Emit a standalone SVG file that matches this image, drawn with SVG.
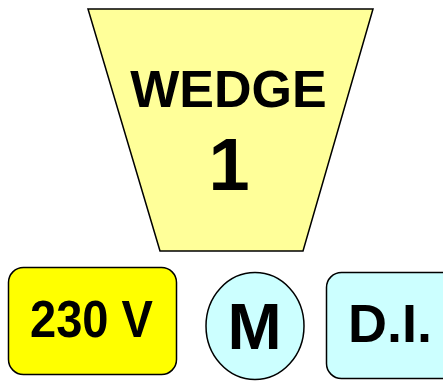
<svg xmlns="http://www.w3.org/2000/svg" width="443" height="381" viewBox="0 0 443 381">
<style>
.s{stroke:#000;stroke-width:1.5}
text{font-family:"Liberation Sans",Arial,sans-serif;font-weight:bold;fill:#000;text-anchor:middle}
</style>
<rect width="443" height="381" fill="#fff"/>
<g id="wedge">
<polygon class="s" points="88,9 373,9 303,251 160,251" fill="#FFFF99"/>
<text x="228.5" y="107" font-size="52">WEDGE</text>
<text x="229" y="190" font-size="74">1</text>
</g>
<g id="voltage">
<rect class="s" x="8.5" y="267.5" width="168" height="107" rx="15" fill="#FFFF00"/>
<text x="91.5" y="337" font-size="52" textLength="123" lengthAdjust="spacingAndGlyphs">230 V</text>
</g>
<g id="motor">
<ellipse class="s" cx="255" cy="326" rx="49" ry="53.5" fill="#CCFFFF"/>
<text x="254.5" y="349" font-size="65">M</text>
</g>
<g id="di">
<rect class="s" x="326.5" y="272.5" width="130" height="106" rx="15" fill="#CCFFFF"/>
<text x="390" y="342" font-size="54">D.I.</text>
</g>
<g id="connectors"/>
</svg>
